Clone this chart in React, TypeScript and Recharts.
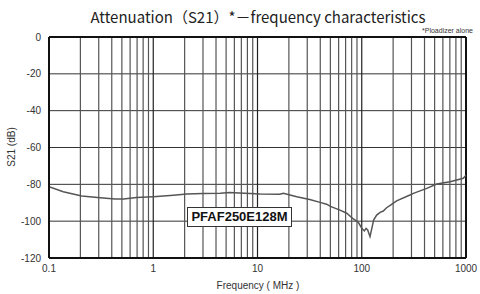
import React from 'react';
import { LineChart, Line, XAxis, YAxis, CartesianGrid, ReferenceLine } from 'recharts';

const freqMHz = [0.1, 0.137, 0.206, 0.31, 0.43, 0.52, 0.69, 1.0, 1.56, 2.1, 3.0, 4.4, 5.4, 7.5, 10.6, 16.4, 17.7, 23.8, 31.7, 39.8, 46, 50, 61.8, 71.8, 83, 92.7, 100, 106, 110, 114, 120, 126, 130, 139, 150, 161, 173, 186, 216, 290, 313, 420, 524, 703, 942, 1000];
const s21dB = [-81.3, -84, -86.3, -87.3, -88, -88, -87.2, -86.7, -85.9, -85.3, -85.0, -84.9, -84.5, -84.8, -85.3, -85.4, -84.9, -86.7, -88.2, -89.8, -90.8, -92, -94, -95.7, -98.8, -100.6, -103.9, -105.3, -103.9, -104.8, -108.4, -103, -99.4, -96.7, -95.2, -94.5, -92.7, -91.6, -89, -85.8, -84.9, -82.2, -79.8, -78.6, -76.7, -75];

const xTicks = [0.1, 1, 10, 100, 1000];
const yTicks = [-120, -100, -80, -60, -40, -20, 0];
const minorMultipliers = [2, 3, 4, 5, 6, 7, 8, 9];
const decades = [0.1, 1, 10, 100];

const title = 'Attenuation（S21）*－frequency characteristics';
const note = '*Ploadizer alone';
const seriesLabel = 'PFAF250E128M';
const xLabel = 'Frequency ( MHz )';
const yLabel = 'S21 (dB)';

const data = freqMHz.map((f, i) => ({ f, s21: s21dB[i] }));
const minorLines: number[] = [];
decades.forEach((d) => minorMultipliers.forEach((m) => minorLines.push(+(d * m).toPrecision(3))));
const majorInner = [1, 10, 100];

const tickStyle = { fontSize: 10, fill: '#333', fontFamily: 'Liberation Sans, Arial, sans-serif' };

export default function App() {
  return (
    <div style={{ position: 'absolute', left: 0, top: 0, width: 480, height: 294, background: '#fff' }}>
      <LineChart width={480} height={294} data={data} margin={{ top: 37, right: 14, bottom: 0, left: 0 }}>
        <CartesianGrid vertical={false} stroke="#333" strokeWidth={1} />
        {minorLines.map((v) => (
          <ReferenceLine key={'m' + v} x={v} stroke="#555" strokeWidth={1.2} />
        ))}
        {majorInner.map((v) => (
          <ReferenceLine key={'M' + v} x={v} stroke="#222" strokeWidth={1.2} />
        ))}
        <XAxis
          dataKey="f"
          type="number"
          scale="log"
          domain={[0.1, 1000]}
          ticks={xTicks}
          allowDataOverflow
          height={36}
          tickLine={false}
          tickSize={0}
          tickMargin={7}
          axisLine={{ stroke: '#111', strokeWidth: 2 }}
          tick={tickStyle}
          tickFormatter={(v: number) => String(v)}
        />
        <YAxis
          type="number"
          domain={[-120, 0]}
          ticks={yTicks}
          width={49}
          tickLine={false}
          tickSize={0}
          tickMargin={8}
          axisLine={{ stroke: '#111', strokeWidth: 2 }}
          tick={tickStyle}
        />
        <ReferenceLine y={0} stroke="#111" strokeWidth={2} />
        <ReferenceLine x={1000} stroke="#111" strokeWidth={2} />
        <Line dataKey="s21" type="linear" stroke="#555" strokeWidth={1.5} dot={false} isAnimationActive={false} />
      </LineChart>
      <div style={{ position: 'absolute', left: 0, width: 516, top: 8, textAlign: 'center', fontFamily: '"Noto Sans CJK JP", sans-serif', fontSize: 15, lineHeight: '18px', color: '#222', whiteSpace: 'nowrap' }}>
        {title}
      </div>
      <div style={{ position: 'absolute', right: 7, top: 27, fontFamily: 'Liberation Sans, Arial, sans-serif', fontSize: 7, lineHeight: '8px', color: '#333' }}>
        {note}
      </div>
      <div style={{ position: 'absolute', left: 187, top: 207, width: 103, height: 18, border: '1px solid #333', background: '#fff', fontFamily: 'Liberation Sans, Arial, sans-serif', fontWeight: 'bold', fontSize: 13, lineHeight: '18px', textAlign: 'center', color: '#111' }}>
        {seriesLabel}
      </div>
      <div style={{ position: 'absolute', left: 0, width: 516, top: 280, textAlign: 'center', fontFamily: 'Liberation Sans, Arial, sans-serif', fontSize: 10, lineHeight: '12px', color: '#333' }}>
        {xLabel}
      </div>
      <div style={{ position: 'absolute', left: 12, top: 147, transform: 'translate(-50%, -50%) rotate(-90deg)', fontFamily: 'Liberation Sans, Arial, sans-serif', fontSize: 10, lineHeight: '12px', color: '#333', whiteSpace: 'nowrap' }}>
        {yLabel}
      </div>
    </div>
  );
}
